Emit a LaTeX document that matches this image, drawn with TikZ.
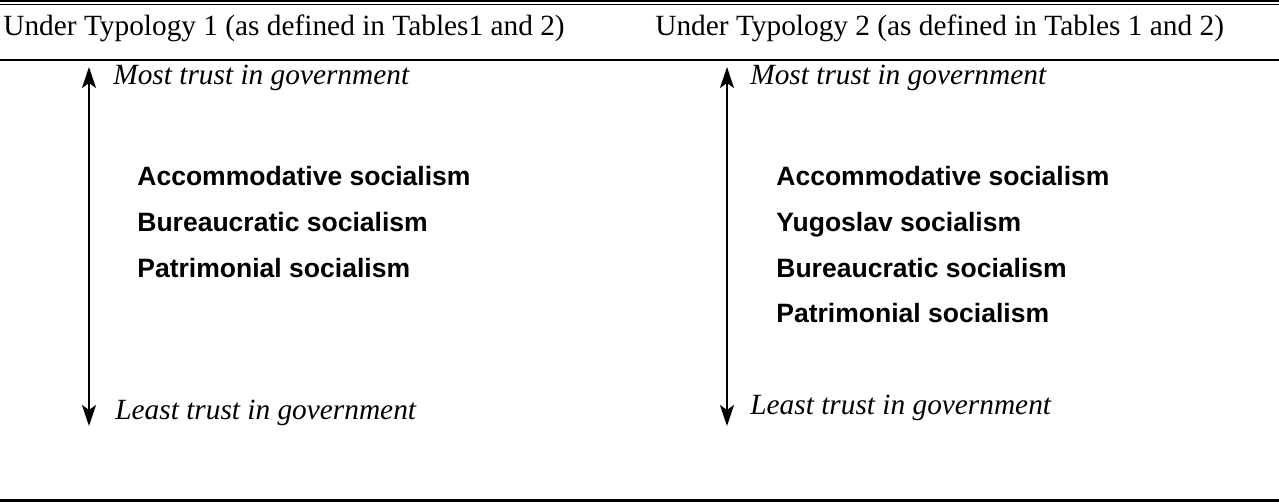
\documentclass[tikz,border=0pt]{standalone}
\usepackage{fontspec}
\setmainfont{Liberation Serif}
\setsansfont{Liberation Sans}
\usetikzlibrary{arrows.meta}
\tikzset{
  head/.style={anchor=base west, inner sep=0pt, font=\fontsize{16.7}{20}\selectfont},
  trust/.style={anchor=base west, inner sep=0pt, font=\fontsize{16.7}{20}\selectfont\itshape},
  kind/.style={anchor=base west, inner sep=0pt, font=\fontsize{15.1}{18}\selectfont\sffamily\bfseries},
}
\begin{document}
\begin{tikzpicture}[x=0.02cm, y=-0.02cm, >={Stealth[length=0.42cm,width=0.28cm,inset=0.1cm]}]
\useasboundingbox (0,0) rectangle (1279,502);
% rules
\draw[line width=0.6pt] (0,1) -- (1279,1);
\draw[line width=0.6pt] (0,4.5) -- (1279,4.5);
\draw[line width=1.2pt] (0,60) -- (1279,60);
\draw[line width=1.7pt] (0,500.5) -- (1279,500.5);
% headings
\node[head] (head1) at (3,36) {Under Typology 1 (as defined in Tables1 and 2)};
\node[head] (head2) at (655,36) {Under Typology 2 (as defined in Tables 1 and 2)};
% typology 1
\coordinate (top1) at (89,67);
\coordinate (bot1) at (89,426);
\draw[<->, line width=1.1pt] (top1) -- (bot1);
\node[trust] (most1) at (113,85) {Most trust in government};
\node[trust] (least1) at (115,420) {Least trust in government};
\node[kind] (acc1) at (137,186) {Accommodative socialism};
\node[kind] (bur1) at (137,232) {Bureaucratic socialism};
\node[kind] (pat1) at (137,278) {Patrimonial socialism};
% typology 2
\coordinate (top2) at (727,67);
\coordinate (bot2) at (727,426);
\draw[<->, line width=1.1pt] (top2) -- (bot2);
\node[trust] (most2) at (750,85) {Most trust in government};
\node[trust] (least2) at (750,415) {Least trust in government};
\node[kind] (acc2) at (776,186) {Accommodative socialism};
\node[kind] (yug2) at (776,232) {Yugoslav socialism};
\node[kind] (bur2) at (776,278) {Bureaucratic socialism};
\node[kind] (pat2) at (776,323) {Patrimonial socialism};
\end{tikzpicture}
\end{document}
